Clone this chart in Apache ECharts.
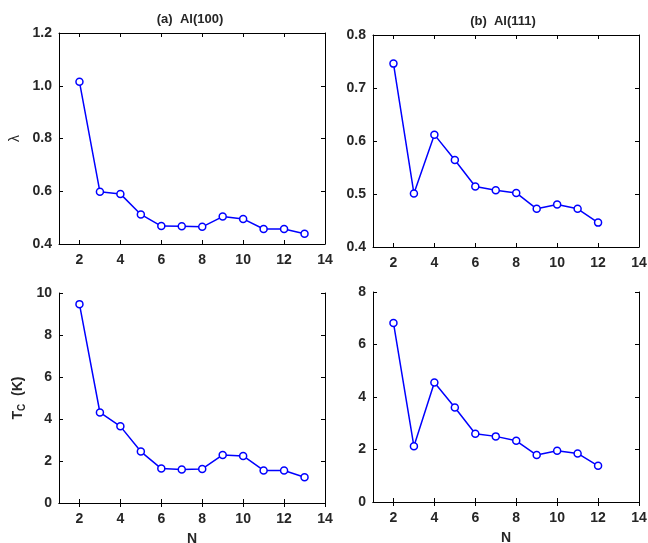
<!DOCTYPE html>
<html>
<head>
<meta charset="utf-8">
<script src="https://cdn.jsdelivr.net/npm/echarts@6/dist/echarts.min.js"></script>
<style>
  html, body { margin: 0; padding: 0; background: #fff; }
  #chart { width: 648px; height: 543px; }
</style>
</head>
<body>
<div id="chart"></div>
<script>
// data
var nA = [2, 3, 4, 5, 6, 7, 8, 9, 10, 11, 12, 13];
var lambdaA = [1.015, 0.598, 0.590, 0.512, 0.468, 0.467, 0.465, 0.504, 0.495, 0.457, 0.457, 0.439];
var tcA = [9.47, 4.31, 3.65, 2.45, 1.64, 1.59, 1.62, 2.29, 2.24, 1.55, 1.55, 1.23];

var nB = [2, 3, 4, 5, 6, 7, 8, 9, 10, 11, 12];
var lambdaB = [0.746, 0.501, 0.612, 0.564, 0.514, 0.507, 0.502, 0.472, 0.480, 0.472, 0.446];
var tcB = [6.82, 2.12, 4.55, 3.60, 2.60, 2.50, 2.33, 1.79, 1.95, 1.85, 1.38];

var xTicks = [2, 4, 6, 8, 10, 12, 14];
var titles = ['(a)  Al(100)', '(b)  Al(111)'];

var chart = echarts.init(document.getElementById('chart'));

var fontFam = 'Liberation Sans, Arial, sans-serif';
var txtColor = '#262626';

var grids = [
    { left: 59, top: 33, width: 266, height: 211, outerBoundsMode: 'none' },
    { left: 373, top: 35, width: 266, height: 212, outerBoundsMode: 'none' },
    { left: 59, top: 293, width: 266, height: 210, outerBoundsMode: 'none' },
    { left: 373, top: 292, width: 266, height: 210, outerBoundsMode: 'none' }
];
var yRanges = [
    { min: 0.4, max: 1.2, interval: 0.2, fmt: function (v) { return v.toFixed(1); } },
    { min: 0.4, max: 0.8, interval: 0.1, fmt: function (v) { return v.toFixed(1); } },
    { min: 0, max: 10, interval: 2, fmt: function (v) { return String(Math.round(v)); } },
    { min: 0, max: 8, interval: 2, fmt: function (v) { return String(Math.round(v)); } }
];
var yNames = ['λ', '', '{t|T}{s|C}{t|  (K)}', ''];

var xAxes = [], yAxes = [], series = [];
var pairs = [[nA, lambdaA], [nB, lambdaB], [nA, tcA], [nB, tcB]];

grids.forEach(function (g, i) {
    var line = { show: true, lineStyle: { color: '#000', width: 1 } };
    var xTick = { show: true, inside: true, length: 4, customValues: xTicks, lineStyle: { color: '#000', width: 1 } };
    xAxes.push({
        type: 'value', gridIndex: i, min: 1, max: 14,
        position: 'bottom',
        axisLine: line, axisTick: xTick, splitLine: { show: false },
        axisLabel: {
            show: true, margin: 9, color: txtColor, fontSize: 14, fontWeight: 'bold', fontFamily: fontFam,
            customValues: xTicks
        },
        name: i >= 2 ? 'N' : '',
        nameLocation: 'middle', nameGap: 29,
        nameTextStyle: { color: txtColor, fontSize: 14, fontWeight: 'bold', fontFamily: fontFam }
    });
    xAxes.push({
        type: 'value', gridIndex: i, min: 1, max: 14,
        position: 'top',
        axisLine: line, axisTick: xTick, splitLine: { show: false },
        axisLabel: { show: false }
    });
    var r = yRanges[i];
    var yTick = { show: true, inside: true, length: 4, lineStyle: { color: '#000', width: 1 } };
    yAxes.push({
        type: 'value', gridIndex: i, min: r.min, max: r.max, interval: r.interval,
        position: 'left',
        axisLine: line, axisTick: yTick, splitLine: { show: false },
        axisLabel: {
            show: true, margin: 7, color: txtColor, fontSize: 14, fontWeight: 'bold', fontFamily: fontFam,
            formatter: r.fmt
        },
        name: yNames[i],
        nameLocation: 'middle',
        nameGap: i === 0 ? 37 : 32,
        nameTextStyle: {
            color: txtColor, fontSize: 14, fontWeight: i === 0 ? 'normal' : 'bold', fontFamily: fontFam,
            rich: {
                t: { fontSize: 14, fontWeight: 'bold', color: txtColor, fontFamily: fontFam },
                s: { fontSize: 10, fontWeight: 'bold', color: txtColor, fontFamily: fontFam, padding: [7, 0, 0, 0] }
            }
        }
    });
    yAxes.push({
        type: 'value', gridIndex: i, min: r.min, max: r.max, interval: r.interval,
        position: 'right',
        axisLine: line, axisTick: yTick, splitLine: { show: false },
        axisLabel: { show: false }
    });
    var xs = pairs[i][0], ys = pairs[i][1];
    series.push({
        type: 'line',
        xAxisIndex: i * 2, yAxisIndex: i * 2,
        data: xs.map(function (x, k) { return [x, ys[k]]; }),
        symbol: 'circle', symbolSize: 7,
        lineStyle: { color: '#0000ff', width: 1.5 },
        itemStyle: { color: '#ffffff', borderColor: '#0000ff', borderWidth: 1.5 },
        animation: false
    });
});

var option = {
    backgroundColor: '#ffffff',
    animation: false,
    title: [
        { text: titles[0], left: 185, top: 8, textAlign: 'center',
          textStyle: { color: txtColor, fontSize: 13, fontWeight: 'bold', fontFamily: fontFam } },
        { text: titles[1], left: 498, top: 10, textAlign: 'center',
          textStyle: { color: txtColor, fontSize: 13, fontWeight: 'bold', fontFamily: fontFam } }
    ],
    grid: grids,
    xAxis: xAxes,
    yAxis: yAxes,
    series: series
};

chart.setOption(option);
</script>
</body>
</html>
